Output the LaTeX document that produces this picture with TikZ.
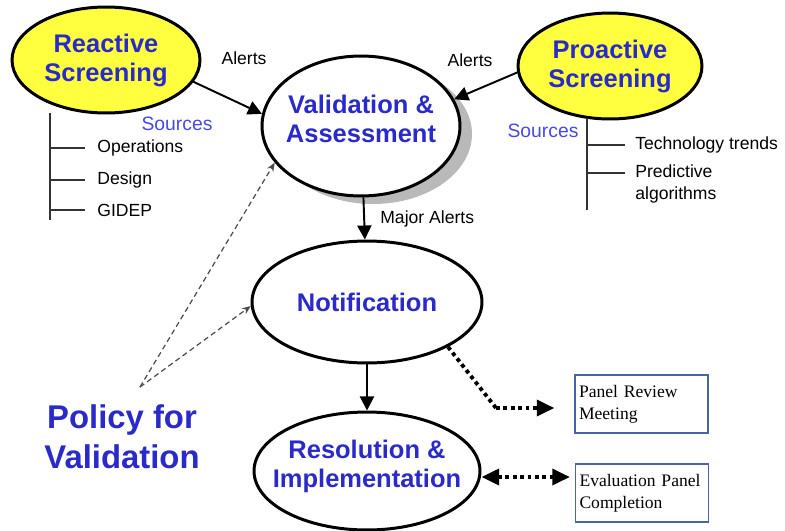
\documentclass[tikz,border=0pt]{standalone}
\usepackage{fontspec}
\setmainfont{Liberation Serif}
\newfontfamily\arialfont{Liberation Sans}
\usetikzlibrary{arrows.meta,shapes.geometric,shadows}
\definecolor{titleblue}{RGB}{42,42,200}
\definecolor{srcblue}{RGB}{72,72,226}
\definecolor{screenyellow}{RGB}{255,255,64}
\definecolor{boxedge}{RGB}{72,100,162}
\begin{document}
\begin{tikzpicture}[x=0.02cm,y=-0.02cm,
    stage/.style={ellipse,draw,line width=1.7pt,inner xsep=-1cm,inner ysep=-0.5cm,align=center,fill=white,
        font=\arialfont\bfseries\fontsize{14.5}{16.5}\selectfont,text=titleblue},
    screen/.style={stage,fill=screenyellow},
    lbl/.style={font=\arialfont\fontsize{10}{13}\selectfont,inner sep=0pt,align=left},
    src/.style={font=\arialfont\fontsize{11}{13}\selectfont,text=srcblue,inner sep=0pt},
    panel/.style={draw=boxedge,line width=0.7pt,minimum width=2.66cm,minimum height=1.16cm,
        text width=2.5cm,align=left,font=\fontsize{10}{12.5}\selectfont,inner sep=0pt},
    flow/.style={line width=1.1pt,-{Triangle[length=8pt,width=8pt]}},
    policyline/.style={gray!60!black,line width=0.7pt,dash pattern=on 3pt off 2pt,-{Stealth[length=5pt,width=4pt]}},
    panelline/.style={line width=2.2pt,dash pattern=on 2.2pt off 2pt,-{Triangle[length=10pt,width=9pt]}},
    tree/.style={line width=0.7pt,black!80}]
\useasboundingbox (0,0) rectangle (785,531);

\node[screen,minimum width=3.76cm,minimum height=2.12cm] (react) at (106,60) {Reactive\\Screening};
\node[screen,minimum width=3.68cm,minimum height=2.12cm] (pro) at (610,66) {Proactive\\Screening};
\node[stage,minimum width=3.96cm,minimum height=2.8cm,
    drop shadow={shadow xshift=0.24cm,shadow yshift=-0.16cm,fill=gray!55,opacity=1}] (valid) at (361,126) {Validation \&\\Assessment\\[-0.3cm]};
\node[stage,minimum width=4.6cm,minimum height=2.44cm] (notif) at (367,302) {Notification};
\node[stage,minimum width=4.52cm,minimum height=2.36cm] (resol) at (367,471) {Resolution \&\\Implementation\\[-0.3cm]};

\node[lbl] (alertsL) at (244,58) {Alerts};
\node[lbl] (alertsR) at (470,60) {Alerts};
\node[lbl,anchor=west] (major) at (380,219) {Major Alerts};

\draw[flow] (react.-14) -- (valid.173);
\draw[flow] (pro.184) -- (valid.16);
\draw[flow] (valid) -- (notif);
\draw[flow] (notif) -- (resol);

\node[src] (srcL) at (177,124) {Sources};
\node[src] (srcR) at (543,131) {Sources};
\coordinate (treeL) at (50,113);
\coordinate (treeLend) at (50,220);
\draw[tree] (treeL) -- (treeLend);
\node[lbl,anchor=west] (ops) at (97,148) {Operations};
\node[lbl,anchor=west] (design) at (97,180) {Design};
\node[lbl,anchor=west] (gidep) at (97,210) {GIDEP};
\foreach \leaf in {ops,design,gidep}
    \draw[tree] (treeL |- \leaf) -- ([xshift=-0.24cm]\leaf.west);

\coordinate (treeR) at (587,118);
\coordinate (treeRend) at (587,210);
\draw[tree] (treeR) -- (treeRend);
\node[lbl,anchor=west] (tech) at (635,145) {Technology trends};
\node[lbl,anchor=north west] (predict) at (635,164) {Predictive\\algorithms};
\draw[tree] (treeR |- tech) -- ([xshift=-0.2cm]tech.west);
\draw[tree] (587,173) -- (625,173);

\node[font=\arialfont\bfseries\fontsize{18.7}{22.5}\selectfont,text=titleblue,align=center] (policy) at (122,437) {Policy for\\Validation};
\coordinate (apex) at (140,387);
\draw[policyline] (apex) -- (valid.203);
\draw[policyline] (apex) -- (notif.182);

\node[panel] (review) at (641.5,404) {Panel Review\\Meeting};
\node[panel] (evaluate) at (642,493) {Evaluation Panel\\Completion};
\coordinate (bend) at (496,408);
\draw[panelline,-] (notif.-29) -- (bend);
\draw[panelline] (bend) -- ([xshift=-0.4cm]review.west |- bend);
\draw[panelline,{Triangle[length=10pt,width=9pt]}-{Triangle[length=10pt,width=9pt]}] (resol.east |- 0,477) -- ([xshift=-0.1cm]evaluate.west |- 0,477);
\end{tikzpicture}
\end{document}
